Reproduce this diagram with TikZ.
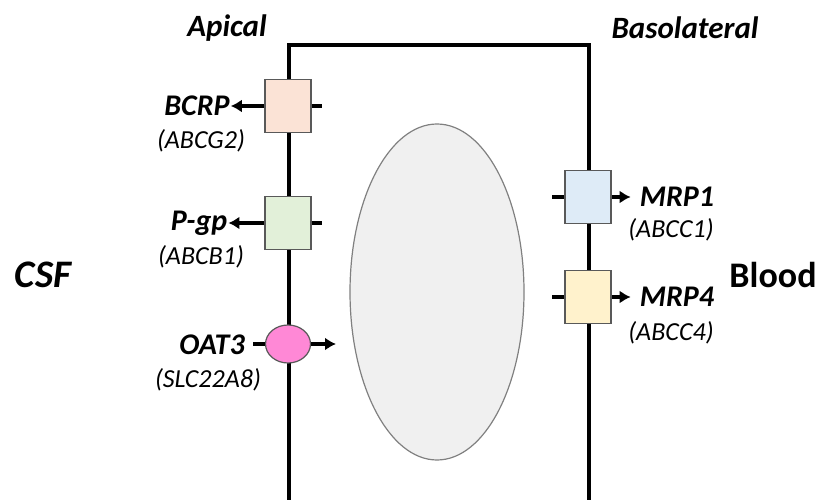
\documentclass[tikz,border=0pt]{standalone}
\usepackage{fontspec}
\setmainfont{Carlito}
\usetikzlibrary{arrows.meta,positioning,shapes.geometric}
\definecolor{bcrpfill}{HTML}{FBE3D6}
\definecolor{pgpfill}{HTML}{E2F0D9}
\definecolor{oatfill}{HTML}{FF88D6}
\definecolor{mrpafill}{HTML}{DEEBF7}
\definecolor{mrpbfill}{HTML}{FFF2CC}

\begin{document}
\begin{tikzpicture}[x=1pt, y=-1pt,
  pump/.style = {draw=black!65, line width=1.2pt, minimum width=46pt, minimum height=53pt},
  carrier/.style = {draw=black!65, line width=1.2pt, ellipse, minimum width=45pt, minimum height=38pt},
  protname/.style = {inner sep=1pt, font=\fontsize{30}{32}\selectfont\bfseries\itshape},
  genename/.style = {inner sep=1pt, font=\fontsize{26}{28}\selectfont\itshape},
  sidelabel/.style = {font=\fontsize{31}{33}\selectfont\bfseries\itshape},
  fluidlabel/.style = {font=\fontsize{39}{41}\selectfont\bfseries},
  wall/.style = {line width=4pt},
  stub/.style = {line width=3.2pt},
  flow/.style = {line width=3.2pt, -{Latex[length=11pt,width=13pt]}}]
  \useasboundingbox (0,0) rectangle (819,500);

  % cell
  \coordinate (TL) at (289,45);
  \coordinate (TR) at (589,45);
  \coordinate (BL) at (289,503);
  \coordinate (BR) at (589,503);
  \draw[wall] (BL) -- (TL) -- (TR) -- (BR);
  \node[draw=black!50, line width=1.2pt, fill=black!6, ellipse, minimum width=174pt, minimum height=336pt] (nucleus) at (437,292) {};

  % apical side
  \node[pump, fill=bcrpfill] (BCRP) at (288,106) {};
  \node[pump, fill=pgpfill] (Pgp) at (288,223) {};
  \node[carrier, fill=oatfill] (OAT3) at (288,344) {};
  \node[protname] (bcrpname) at (197,106) {BCRP};
  \node[genename] (bcrpgene) at (201,141) {(ABCG2)};
  \node[protname] (pgpname) at (199,223) {P-gp};
  \node[genename] (pgpgene) at (201,257) {(ABCB1)};
  \node[protname] (oatname) at (212,345) {OAT3};
  \node[genename] (oatgene) at (208,380) {(SLC22A8)};
  \coordinate (bcrpin) at (322,106);
  \coordinate (pgpin) at (322,223);
  \coordinate (oatout) at (253,344);
  \coordinate (oatin) at (336,344);

  \draw[flow] (BCRP) -- (bcrpname);
  \draw[stub] (BCRP.east) -- (bcrpin);
  \draw[flow] (Pgp) -- (pgpname);
  \draw[stub] (Pgp.east) -- (pgpin);
  \draw[stub] (oatout) -- (OAT3.west);
  \draw[flow] (OAT3.east) -- (oatin);

  % basolateral side
  \node[pump, fill=mrpafill] (MRP1) at (588,197) {};
  \node[pump, fill=mrpbfill] (MRP4) at (588,297) {};
  \node[protname] (mrp1name) at (677,197) {MRP1};
  \node[genename] (mrp1gene) at (671,230) {(ABCC1)};
  \node[protname] (mrp4name) at (677,297) {MRP4};
  \node[genename] (mrp4gene) at (671,333) {(ABCC4)};
  \coordinate (mrp1from) at (552,197);
  \coordinate (mrp4from) at (552,297);

  \draw[stub] (mrp1from) -- (MRP1.west);
  \draw[flow, shorten >=8pt] (MRP1) -- (mrp1name);
  \draw[stub] (mrp4from) -- (MRP4.west);
  \draw[flow, shorten >=8pt] (MRP4) -- (mrp4name);

  % labels
  \node[sidelabel] (apical) at (227,28) {Apical};
  \node[sidelabel] (basolateral) at (685,28) {Basolateral};
  \node[fluidlabel] (csf) at (43,275) {\itshape CSF};
  \node[fluidlabel, font=\fontsize{36}{38}\selectfont\bfseries] (blood) at (773,275) {Blood};
\end{tikzpicture}
\end{document}
